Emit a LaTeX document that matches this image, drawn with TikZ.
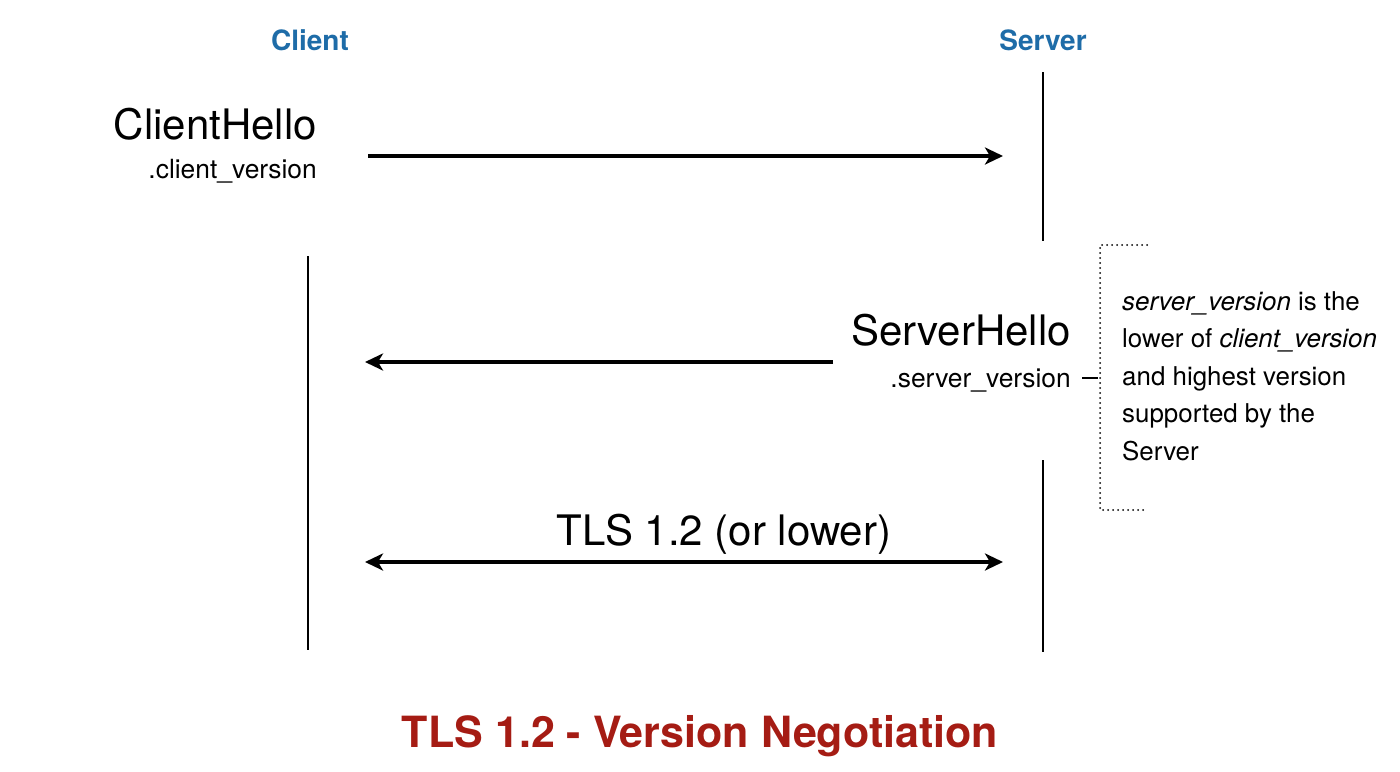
\documentclass[tikz,border=0pt]{standalone}
\usepackage{fontspec}
\setmainfont{TeX Gyre Heros}
\usetikzlibrary{arrows.meta}
\definecolor{hdrblue}{RGB}{30,108,168}
\definecolor{titlered}{RGB}{165,28,20}
\tikzset{
  lifeline/.style={line width=1.4pt, black},
  msg/.style={line width=3.6pt, black, -{Stealth[length=18pt,width=17pt,inset=5pt]}},
  msgboth/.style={line width=3.6pt, black, {Stealth[length=18pt,width=17pt,inset=5pt]}-{Stealth[length=18pt,width=17pt,inset=5pt]}},
  hdr/.style={font=\fontsize{28}{32}\selectfont\bfseries, text=hdrblue, inner sep=0pt},
  bigtxt/.style={font=\fontsize{42}{48}\selectfont, inner sep=0pt},
  fieldtxt/.style={font=\fontsize{26.4}{30}\selectfont, inner sep=0pt},
  notetxt/.style={font=\fontsize{25.9}{37.5}\selectfont, inner sep=0pt, align=left},
  dotline/.style={line width=2pt, line cap=round, dash pattern=on 0pt off 5pt},
}
\begin{document}
\begin{tikzpicture}[x=1pt,y=-1pt]
\useasboundingbox (0,0) rectangle (1400,771);
% headers
\node[hdr, anchor=base] (client) at (310,50) {Client};
\node[hdr, anchor=base] (server) at (1043,50) {Server};
% lifelines
\coordinate (s1a) at (1043,72);
\coordinate (s1b) at (1043,241);
\coordinate (s2a) at (1043,460);
\coordinate (s2b) at (1043,652);
\coordinate (c1a) at (308,256);
\coordinate (c1b) at (308,650);
\draw[lifeline] (s1a) -- (s1b);
\draw[lifeline] (s2a) -- (s2b);
\draw[lifeline] (c1a) -- (c1b);
% ClientHello
\node[bigtxt, anchor=base east] (ch) at (317,139) {ClientHello};
\node[fieldtxt, anchor=base east] (cv) at (317,178) {.client\_version};
\coordinate (a1s) at (368,156);
\coordinate (a1e) at (1003,156);
\draw[msg] (a1s) -- (a1e);
% ServerHello
\node[bigtxt, anchor=base east] (sh) at (1071,345) {ServerHello};
\node[fieldtxt, anchor=base east] (sv) at (1071,387) {.server\_version};
\coordinate (a2s) at (833,362);
\coordinate (a2e) at (365,362);
\draw[msg] (a2s) -- (a2e);
% callout
\coordinate (d1) at (1082,378);
\coordinate (d2) at (1098,378);
\draw[line width=1.2pt] (d1) -- (d2);
\coordinate (bt) at (1147,245);
\coordinate (btl) at (1100,245);
\coordinate (bbl) at (1100,510);
\coordinate (bb) at (1147,510);
\draw[dotline] (bt) -- (btl) -- (bbl) -- (bb);
\node[notetxt, anchor=north west] (note) at (1122,291) {\textit{server\_version} is the\\lower of \textit{client\_version}\\and highest version\\supported by the\\Server};
% TLS exchange
\node[bigtxt, anchor=base] (tls) at (724,545) {TLS 1.2 (or lower)};
\coordinate (a3s) at (365,562);
\coordinate (a3e) at (1003,562);
\draw[msgboth] (a3s) -- (a3e);
% title
\node[font=\fontsize{43}{48}\selectfont\bfseries, text=titlered, inner sep=0pt, anchor=base] (title) at (700,747) {TLS 1.2 - Version Negotiation};
\end{tikzpicture}
\end{document}
